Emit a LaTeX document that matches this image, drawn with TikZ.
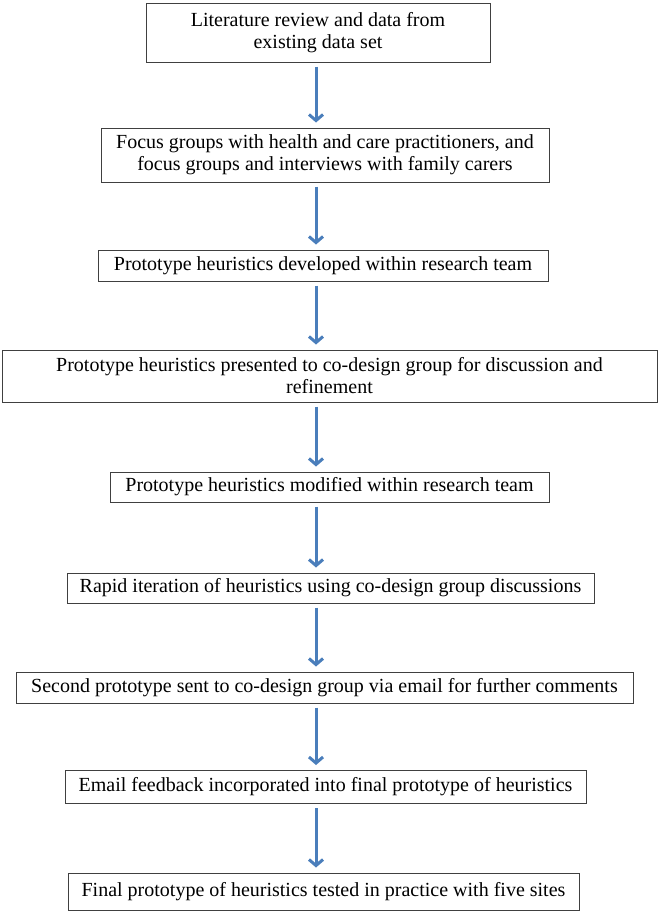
\documentclass[tikz,border=0pt]{standalone}
\usepackage{fontspec}
\setmainfont{Liberation Serif}
\usepackage{xcolor}
\usepackage{tikz}
\usetikzlibrary{arrows.meta}
\definecolor{flowblue}{RGB}{74,126,187}
\tikzstyle{box} = [draw=black!75, line width=1pt, align=center, inner sep=0pt, font=\fontsize{20}{22}\selectfont]
\tikzstyle{arrow} = [-{Straight Barb[length=6pt,width=14pt,line width=3pt]}, line width=3pt, draw=flowblue, shorten <=4pt, shorten >=5pt]

\begin{document}
\begin{tikzpicture}[x=1pt,y=-1pt]
      \useasboundingbox (0,0) rectangle (660,913);
      \coordinate (ax) at (316,0);
      % boxes, top to bottom
      \node[box, minimum width=344, minimum height=59] (lit) at (318,32.5) {Literature review and data from\\existing data set};
      \node[box, minimum width=448, minimum height=54] (focus) at (325,155) {Focus groups with health and care practitioners, and\\focus groups and interviews with family carers};
      \node[box, minimum width=450, minimum height=31] (dev) at (323,265.5) {Prototype heuristics developed within research team};
      \node[box, minimum width=655, minimum height=52] (pres) at (329.5,376) {Prototype heuristics presented to co-design group for discussion and\\refinement};
      \node[box, minimum width=439, minimum height=30] (mod) at (329.5,487) {Prototype heuristics modified within research team};
      \node[box, minimum width=527, minimum height=30] (rapid) at (330.5,588) {Rapid iteration of heuristics using co-design group discussions};
      \node[box, minimum width=617, minimum height=31] (second) at (324.5,687.5) {Second prototype sent to co-design group via email for further comments};
      \node[box, minimum width=521, minimum height=33] (email) at (325.5,787) {Email feedback incorporated into final prototype of heuristics};
      \node[box, minimum width=511, minimum height=37] (final) at (323.5,891.5) {Final prototype of heuristics tested in practice with five sites};
      % arrows
      \draw[arrow] (lit.south -| ax) -- (focus.north -| ax);
      \draw[arrow] (focus.south -| ax) -- (dev.north -| ax);
      \draw[arrow] (dev.south -| ax) -- (pres.north -| ax);
      \draw[arrow] (pres.south -| ax) -- (mod.north -| ax);
      \draw[arrow] (mod.south -| ax) -- (rapid.north -| ax);
      \draw[arrow] (rapid.south -| ax) -- (second.north -| ax);
      \draw[arrow] (second.south -| ax) -- (email.north -| ax);
      \draw[arrow] (email.south -| ax) -- (final.north -| ax);
\end{tikzpicture}
\end{document}
